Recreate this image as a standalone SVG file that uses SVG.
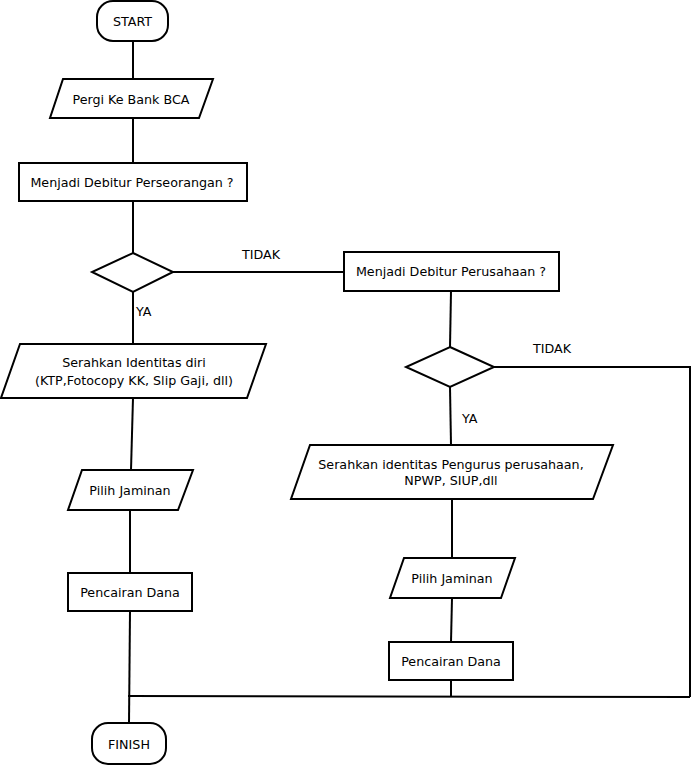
<svg xmlns="http://www.w3.org/2000/svg" width="692" height="766" viewBox="0 0 692 766">
<style>
.s{fill:#fff;stroke:#000;stroke-width:2}
.c{fill:none;stroke:#000;stroke-width:2}
text{font-family:"DejaVu Sans",sans-serif;font-size:12.7px;fill:#000;text-anchor:middle;dominant-baseline:central}
.l{text-anchor:start}
</style>
<rect width="692" height="766" fill="#fff"/>
<g id="connectors">
<line class="c" x1="133" y1="41" x2="133" y2="79"/>
<line class="c" x1="133" y1="118" x2="133" y2="163"/>
<line class="c" x1="133" y1="201" x2="133" y2="253"/>
<line class="c" x1="173" y1="272" x2="344" y2="272"/>
<line class="c" x1="133" y1="292" x2="133" y2="344"/>
<line class="c" x1="133" y1="398" x2="131" y2="470"/>
<line class="c" x1="130" y1="510" x2="130" y2="573"/>
<line class="c" x1="130" y1="611" x2="129" y2="723"/>
<line class="c" x1="451" y1="291" x2="450" y2="347"/>
<polyline class="c" points="494,367 690,367 690,697"/>
<line class="c" x1="450" y1="387" x2="451" y2="445"/>
<line class="c" x1="452" y1="499" x2="452" y2="558"/>
<line class="c" x1="452" y1="598" x2="451" y2="642"/>
<line class="c" x1="451" y1="680" x2="451" y2="697"/>
<line class="c" x1="128" y1="696" x2="690" y2="697"/>
<text class="l" x="242" y="254">TIDAK</text>
<text class="l" x="136" y="311">YA</text>
<text class="l" x="533" y="348">TIDAK</text>
<text class="l" x="462" y="418">YA</text>
</g>
<g id="start">
<rect class="s" x="97" y="1" width="71" height="40" rx="16"/>
<text x="132.5" y="21">START</text>
</g>
<g id="pergi">
<polygon class="s" points="63,79 213,79 199,118 50,118"/>
<text x="131" y="99">Pergi Ke Bank BCA</text>
</g>
<g id="perseorangan">
<rect class="s" x="19" y="163" width="228" height="38"/>
<text x="132" y="182">Menjadi Debitur Perseorangan ?</text>
</g>
<g id="decision1">
<polygon class="s" points="133,253 173,272 133,292 92,272"/>
</g>
<g id="identitas">
<polygon class="s" points="20,344 266,344 247,398 1,398"/>
<text x="134" y="362">Serahkan Identitas diri</text>
<text x="134" y="380">(KTP,Fotocopy KK, Slip Gaji, dll)</text>
</g>
<g id="jaminan1">
<polygon class="s" points="82,470 193,470 178,510 68,510"/>
<text x="130" y="490">Pilih Jaminan</text>
</g>
<g id="pencairan1">
<rect class="s" x="68" y="573" width="124" height="38"/>
<text x="130" y="592">Pencairan Dana</text>
</g>
<g id="finish">
<rect class="s" x="92" y="723" width="74" height="41" rx="16"/>
<text x="129" y="744">FINISH</text>
</g>
<g id="perusahaan">
<rect class="s" x="344" y="252" width="215" height="39"/>
<text x="451" y="271">Menjadi Debitur Perusahaan ?</text>
</g>
<g id="decision2">
<polygon class="s" points="450,347 494,367 450,387 406,367"/>
</g>
<g id="identitas2">
<polygon class="s" points="310,445 613,445 593,499 291,499"/>
<text x="451" y="464">Serahkan identitas Pengurus perusahaan,</text>
<text x="451" y="480">NPWP, SIUP,dll</text>
</g>
<g id="jaminan2">
<polygon class="s" points="404,558 515,558 501,598 390,598"/>
<text x="452" y="578">Pilih Jaminan</text>
</g>
<g id="pencairan2">
<rect class="s" x="389" y="642" width="124" height="38"/>
<text x="451" y="661">Pencairan Dana</text>
</g>
</svg>
